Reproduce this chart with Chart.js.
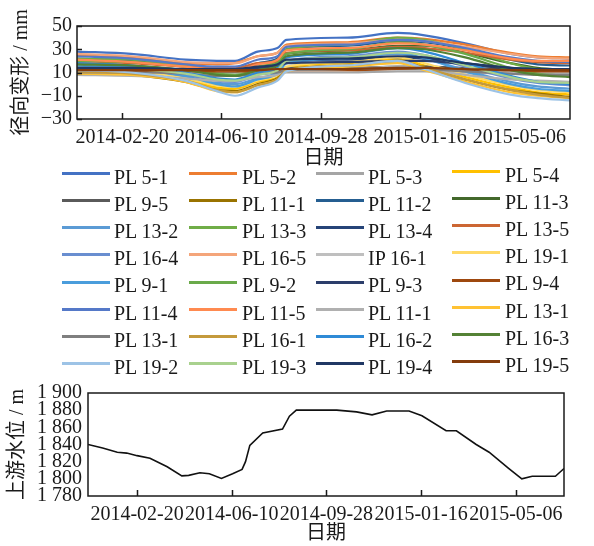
<!DOCTYPE html>
<html>
<head>
<meta charset="utf-8">
<script src="https://cdn.jsdelivr.net/npm/chart.js@4/dist/chart.umd.min.js"></script>
<style>
  body { margin: 0; background: #fff; }
  #wrap { position: relative; width: 594px; height: 546px; background: #fff; overflow: hidden; }
  .box { position: absolute; left: 0; width: 594px; height: 171px; }
  .lg-line { position: absolute; width: 48px; height: 3px; }
  .lg-text { position: absolute; font: 20px 'Liberation Serif', 'Times New Roman', serif; line-height: 20px; color: #1a1a1a; white-space: nowrap; }
</style>
</head>
<body>
<div id="wrap">
  <div class="box" style="top:0"><canvas id="deformChart"></canvas></div>
  <div id="legend"></div>
  <div class="box" style="top:375px"><canvas id="levelChart"></canvas></div>
</div>
<script>
// days counted from 2014-01-01
const keyDays = [0, 60, 120, 155, 175, 200, 222, 232, 300, 355, 385, 430, 480, 510, 546];
const tickDays = [50, 160, 270, 380, 490];
const tickLabels = ['2014-02-20', '2014-06-10', '2014-09-28', '2015-01-16', '2015-05-06'];

// radial deformation, mm
const pl5_1   = [28, 26, 21, 20, 20, 28, 31, 38, 40, 44, 42, 35, 26, 23, 22];
const pl5_2   = [25, 23, 18, 17, 18, 24, 27, 34, 36, 40, 39, 34, 27, 24, 23];
const pl5_3   = [9, 9, 9, 8, 8, 9, 10, 10, 10, 11, 11, 10, 9, 9, 9];
const pl5_4   = [12, 10, 4, -3, -4, 2, 6, 14, 18, 22, 16, 6, -3, -7, -9];
const pl9_5   = [12, 12, 11, 11, 11, 12, 13, 14, 14, 15, 15, 14, 13, 13, 13];
const pl11_1  = [10, 8, 2, -5, -6, 0, 5, 12, 16, 20, 14, 4, -5, -8, -11];
const pl11_2  = [22, 20, 15, 12, 12, 18, 22, 30, 33, 37, 36, 30, 21, 17, 16];
const pl11_3  = [18, 16, 12, 9, 9, 14, 18, 26, 29, 33, 33, 27, 18, 14, 12];
const pl13_2  = [14, 12, 6, 1, 0, 5, 10, 18, 22, 26, 22, 12, 2, -2, -4];
const pl13_3  = [22, 21, 16, 10, 9, 15, 20, 30, 34, 40, 38, 30, 18, 13, 11];
const pl13_4  = [15, 14, 12, 11, 11, 14, 16, 20, 21, 23, 22, 18, 13, 12, 11];
const pl13_5  = [20, 18, 15, 14, 14, 18, 20, 27, 29, 32, 31, 27, 21, 19, 18];
const pl16_4  = [16, 14, 8, 3, 2, 8, 12, 20, 24, 28, 25, 15, 5, 1, -1];
const pl16_5  = [26, 24, 19, 18, 18, 24, 27, 33, 35, 38, 37, 32, 26, 23, 22];
const ip16_1  = [11, 11, 10, 9, 9, 10, 11, 12, 12, 13, 13, 12, 11, 10, 10];
const pl19_1  = [13, 11, 5, -1, -2, 3, 8, 15, 19, 23, 18, 8, -1, -5, -7];
const pl9_1   = [16, 14, 7, 0, -2, 4, 9, 18, 22, 27, 22, 11, 0, -4, -6];
const pl9_2   = [20, 19, 15, 9, 8, 13, 18, 26, 30, 36, 34, 26, 14, 9, 7];
const pl9_3   = [13, 13, 12, 12, 12, 14, 15, 18, 19, 20, 20, 17, 14, 13, 12];
const pl9_4   = [11, 11, 11, 11, 11, 11, 12, 12, 12, 13, 13, 12, 12, 11, 11];
const pl11_4  = [24, 22, 17, 15, 15, 21, 24, 32, 34, 38, 37, 31, 23, 20, 19];
const pl11_5  = [21, 19, 15, 12, 12, 17, 21, 29, 31, 35, 34, 29, 22, 20, 20];
const pl11_1b = [8, 7, 5, 3, 3, 6, 8, 12, 13, 15, 13, 8, 4, 3, 2];
const pl13_1  = [9, 8, 2, -6, -7, -1, 4, 11, 15, 18, 12, 2, -7, -10, -12];
const pl13_1b = [10, 10, 9, 7, 7, 9, 10, 12, 13, 14, 13, 11, 9, 8, 8];
const pl16_1  = [11, 9, 3, -5, -7, -1, 4, 12, 16, 20, 14, 4, -5, -9, -12];
const pl16_2  = [18, 16, 10, 5, 4, 10, 14, 23, 26, 31, 28, 18, 7, 2, 0];
const pl16_3  = [17, 16, 12, 8, 7, 12, 16, 24, 27, 31, 30, 23, 12, 8, 6];
const pl19_2  = [12, 10, 3, -6, -10, -3, 3, 11, 16, 20, 13, 1, -9, -12, -14];
const pl19_3  = [14, 13, 9, 4, 3, 8, 12, 20, 23, 27, 25, 16, 6, 2, 1];
const pl19_4  = [14, 14, 13, 13, 13, 15, 17, 21, 22, 24, 23, 18, 14, 13, 13];
const pl19_5  = [12, 12, 12, 12, 12, 12, 13, 13, 13, 14, 14, 13, 12, 12, 12];

const seriesNames = [
  'PL 5-1', 'PL 5-2', 'PL 5-3', 'PL 5-4',
  'PL 9-5', 'PL 11-1', 'PL 11-2', 'PL 11-3',
  'PL 13-2', 'PL 13-3', 'PL 13-4', 'PL 13-5',
  'PL 16-4', 'PL 16-5', 'IP 16-1', 'PL 19-1',
  'PL 9-1', 'PL 9-2', 'PL 9-3', 'PL 9-4',
  'PL 11-4', 'PL 11-5', 'PL 11-1', 'PL 13-1',
  'PL 13-1', 'PL 16-1', 'PL 16-2', 'PL 16-3',
  'PL 19-2', 'PL 19-3', 'PL 19-4', 'PL 19-5'
];
const seriesValues = [
  pl5_1, pl5_2, pl5_3, pl5_4,
  pl9_5, pl11_1, pl11_2, pl11_3,
  pl13_2, pl13_3, pl13_4, pl13_5,
  pl16_4, pl16_5, ip16_1, pl19_1,
  pl9_1, pl9_2, pl9_3, pl9_4,
  pl11_4, pl11_5, pl11_1b, pl13_1,
  pl13_1b, pl16_1, pl16_2, pl16_3,
  pl19_2, pl19_3, pl19_4, pl19_5
];
const seriesColors = [
  '#4472C4', '#ED7D31', '#A5A5A5', '#FFC000',
  '#5A5A5A', '#997300', '#255E91', '#43682B',
  '#5B9BD5', '#70AD47', '#264478', '#CC6633',
  '#698ED0', '#F4A57A', '#BFBFBF', '#FFD966',
  '#4A9DDC', '#6AAA4A', '#2C3E6B', '#9E480E',
  '#5579C8', '#FF8A50', '#B0B0B0', '#FFC233',
  '#7F7F7F', '#C49A3C', '#2F8AD6', '#548235',
  '#9DC3E6', '#A9D18E', '#203864', '#843C0C'
];

// upstream water level, m
const levelDays = [-7, 10, 27, 38, 50, 65, 85, 102, 110, 123, 134, 148, 161, 172, 176, 181, 196, 219, 227, 235,
  282, 305, 323, 340, 366, 381, 409, 421, 444, 459, 482, 497, 509, 536, 546];
const levelValues = [1840, 1836, 1831, 1830, 1827, 1824, 1814, 1803.5, 1804, 1807, 1806, 1800.5, 1806, 1811, 1820, 1839, 1853.5, 1858, 1873, 1880,
  1880, 1878, 1874.5, 1879, 1879, 1873.5, 1856, 1856, 1840, 1831, 1812, 1800, 1803, 1803, 1812];

const latin = "'Liberation Serif', 'Times New Roman', serif";
const cjk = "'Liberation Serif', 'Noto Sans CJK SC', serif";
Chart.defaults.font.family = latin;
Chart.defaults.font.size = 20;
Chart.defaults.color = '#1a1a1a';

// closed frame plus inward tick marks
const framePlugin = {
  id: 'frame',
  afterDatasetsDraw(chart, args, opts) {
    const { ctx, chartArea: a, scales } = chart;
    ctx.save();
    ctx.strokeStyle = '#1a1a1a';
    ctx.lineWidth = 1.5;
    ctx.strokeRect(a.left, a.top, a.right - a.left, a.bottom - a.top);
    ctx.beginPath();
    scales.x.ticks.forEach(t => {
      const px = Math.round(scales.x.getPixelForValue(t.value)) + 0.5;
      ctx.moveTo(px, a.bottom);
      ctx.lineTo(px, a.bottom - 6);
    });
    if (opts.yTicks) {
      scales.y.ticks.forEach(t => {
        const py = Math.round(scales.y.getPixelForValue(t.value)) + 0.5;
        ctx.moveTo(a.left, py);
        ctx.lineTo(a.left + 5, py);
      });
    }
    ctx.stroke();
    ctx.restore();
  }
};

function dateAxis(min, height, pad) {
  return {
    type: 'linear',
    min: min,
    max: 546,
    grid: { display: false, drawTicks: false },
    border: { display: false },
    afterBuildTicks: scale => { scale.ticks = tickDays.map(v => ({ value: v })); },
    afterFit: scale => { scale.height = height; },
    ticks: {
      autoSkip: false,
      maxRotation: 0,
      padding: pad,
      callback: (v, i) => tickLabels[i]
    },
    title: { display: true, text: '日期', font: { family: cjk, size: 20 }, padding: 0 }
  };
}

new Chart(document.getElementById('deformChart'), {
  type: 'line',
  data: {
    datasets: seriesNames.map((name, i) => ({
      label: name,
      data: seriesValues[i].map((v, j) => ({ x: keyDays[j], y: v })),
      borderColor: seriesColors[i],
      backgroundColor: seriesColors[i],
      borderWidth: 2.2,
      pointRadius: 0,
      order: seriesNames.length - i,   // later series on top, like the source
      cubicInterpolationMode: 'monotone'
    }))
  },
  options: {
    responsive: true,
    maintainAspectRatio: false,
    animation: false,
    layout: { padding: { top: 26, right: 24, left: 0, bottom: 0 } },
    plugins: { legend: { display: false }, tooltip: { enabled: false }, frame: { yTicks: true } },
    scales: {
      x: dateAxis(0, 52, 7),
      y: {
        min: -30,
        max: 50,
        grid: { display: false, drawTicks: false },
        border: { display: false },
        afterFit: scale => { scale.width = 77; },
        ticks: {
          stepSize: 20,
          autoSkip: false,
          padding: 5,
          callback: v => v < 0 ? '\u2212' + Math.abs(v) : String(v)
        },
        title: { display: true, text: '径向变形 / mm', font: { family: cjk, size: 20 }, padding: { top: 10, bottom: 0 } }
      }
    }
  },
  plugins: [framePlugin]
});

new Chart(document.getElementById('levelChart'), {
  type: 'line',
  data: {
    datasets: [{
      label: '上游水位',
      data: levelDays.map((d, i) => ({ x: d, y: levelValues[i] })),
      borderColor: '#111',
      borderWidth: 1.6,
      pointRadius: 0,
      tension: 0
    }]
  },
  options: {
    responsive: true,
    maintainAspectRatio: false,
    animation: false,
    layout: { padding: { top: 17, right: 30, left: 0, bottom: 0 } },
    plugins: { legend: { display: false }, tooltip: { enabled: false }, frame: { yTicks: false } },
    scales: {
      x: dateAxis(-7, 50, 7),
      y: {
        min: 1780,
        max: 1900,
        grid: { display: false, drawTicks: false },
        border: { display: false },
        afterFit: scale => { scale.width = 88; },
        ticks: {
          stepSize: 20,
          autoSkip: false,
          padding: 6,
          callback: v => String(v).replace(/^(\d)(\d{3})$/, '$1 $2')
        },
        title: { display: true, text: '上游水位 / m', font: { family: cjk, size: 20 }, padding: { top: 6, bottom: 0 } }
      }
    }
  },
  plugins: [framePlugin]
});

// legend grid, 4 columns
const legendLineX = [62, 189, 316, 452];
const legendTextX = [114, 242, 368, 505];
const legend = document.getElementById('legend');
seriesNames.forEach((name, i) => {
  const r = Math.floor(i / 4), c = i % 4;
  const y = 173.3 + r * 27.2 - (c === 3 ? 2 : 0);
  const line = document.createElement('div');
  line.className = 'lg-line';
  line.style.left = legendLineX[c] + 'px';
  line.style.top = (y - 1.5) + 'px';
  line.style.background = seriesColors[i];
  legend.appendChild(line);
  const txt = document.createElement('div');
  txt.className = 'lg-text';
  txt.style.left = legendTextX[c] + 'px';
  txt.style.top = (y - 6.8) + 'px';
  txt.textContent = name;
  legend.appendChild(txt);
});
</script>
</body>
</html>
